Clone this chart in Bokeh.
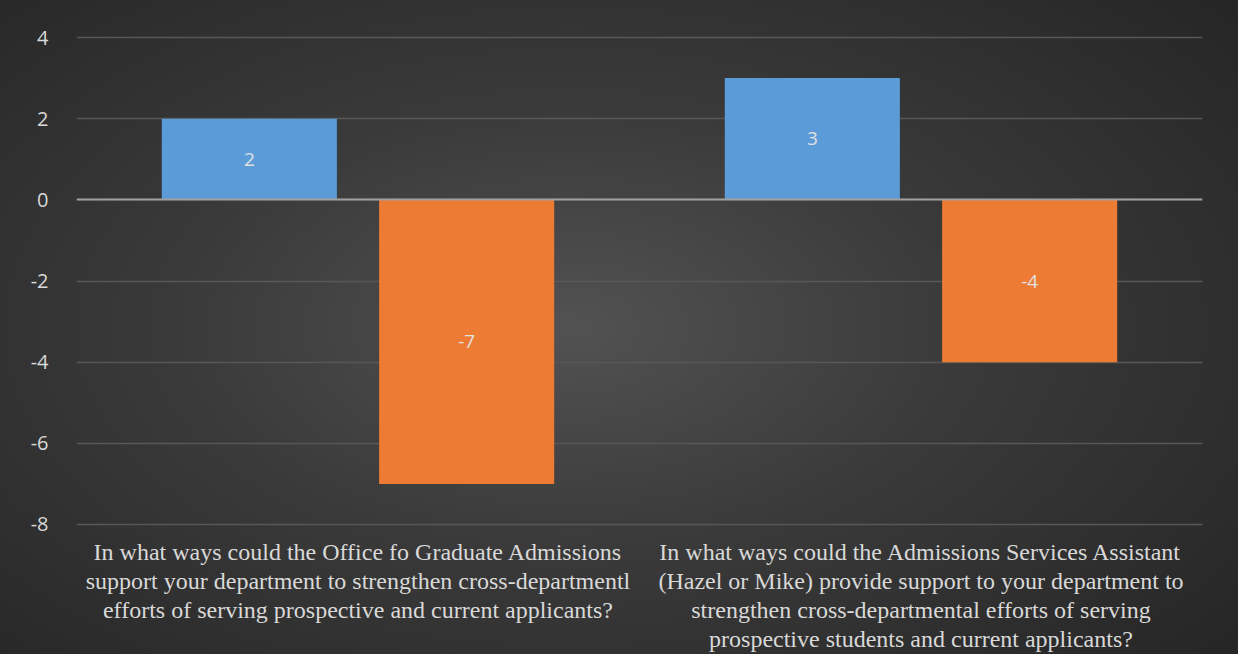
from bokeh.plotting import figure
from bokeh.models import ColumnDataSource, FactorRange, Range1d, FixedTicker
from bokeh.transform import dodge
from bokeh.core.properties import value
from bokeh.embed import file_html
from bokeh.resources import INLINE

categories = [
    "In what ways could the Office fo Graduate Admissions\nsupport your department to strengthen cross-departmentl\nefforts of serving prospective and current applicants?",
    "In what ways could the Admissions Services Assistant\n(Hazel or Mike) provide support to your department to\nstrengthen cross-departmental efforts of serving\nprospective students and current applicants?",
]
series_a = [2, 3]
series_b = [-7, -4]
y_ticks = [-8, -6, -4, -2, 0, 2, 4]

src = ColumnDataSource(dict(
    cat=categories,
    a=series_a,
    b=series_b,
    a_mid=[v / 2 for v in series_a],
    b_mid=[v / 2 for v in series_b],
    a_txt=[str(v) for v in series_a],
    b_txt=[str(v) for v in series_b],
))

p = figure(
    width=1238, height=654,
    x_range=FactorRange(*categories, range_padding=0),
    y_range=Range1d(-8.05, 4.05),
    output_backend="svg", toolbar_location=None,
    min_border_left=76, min_border_right=36, min_border_top=35, min_border_bottom=125,
    styles={"background": "radial-gradient(ellipse 70% 75% at 46% 50%, #525252 0%, #3a3a3a 45%, #262626 100%)"},
)
p.background_fill_alpha = 0
p.border_fill_alpha = 0
p.outline_line_color = None

p.vbar(x=dodge("cat", -0.193, range=p.x_range), top="a", bottom=0, width=0.311,
       source=src, fill_color="#5b9bd7", line_color=None)
p.vbar(x=dodge("cat", 0.193, range=p.x_range), top="b", bottom=0, width=0.311,
       source=src, fill_color="#ee7b33", line_color=None)

p.hspan(y=[0], line_color="#a0a0a0", line_width=2)

for xo, ycol, tcol in [(-0.193, "a_mid", "a_txt"), (0.193, "b_mid", "b_txt")]:
    p.text(x=dodge("cat", xo, range=p.x_range), y=ycol, text=tcol, source=src,
           text_align="center", text_baseline="middle",
           text_font=value("Open Sans"), text_font_size="19px", text_color="#e0e0e0")

p.yaxis.ticker = FixedTicker(ticks=y_ticks)
p.yaxis.major_label_overrides = {t: str(t) for t in y_ticks}
p.ygrid.ticker = FixedTicker(ticks=y_ticks)
p.ygrid.grid_line_color = "#575757"
p.ygrid.grid_line_width = 1.5
p.xgrid.grid_line_color = None

for ax in (p.xaxis, p.yaxis):
    ax.axis_line_color = None
    ax.major_tick_line_color = None
    ax.minor_tick_line_color = None
    ax.major_label_text_color = "#d9d9d9"

p.yaxis.major_label_text_font = "Open Sans"
p.yaxis.major_label_text_font_size = "20px"
p.yaxis.major_label_standoff = 22

p.xaxis.major_label_text_font = "Liberation Serif"
p.xaxis.major_label_text_font_size = "24px"
p.xaxis.major_label_text_line_height = 1.12
p.xaxis.major_label_standoff = 6
p.xaxis.major_label_orientation = "horizontal"

open("out.html", "w").write(file_html(p, INLINE))
